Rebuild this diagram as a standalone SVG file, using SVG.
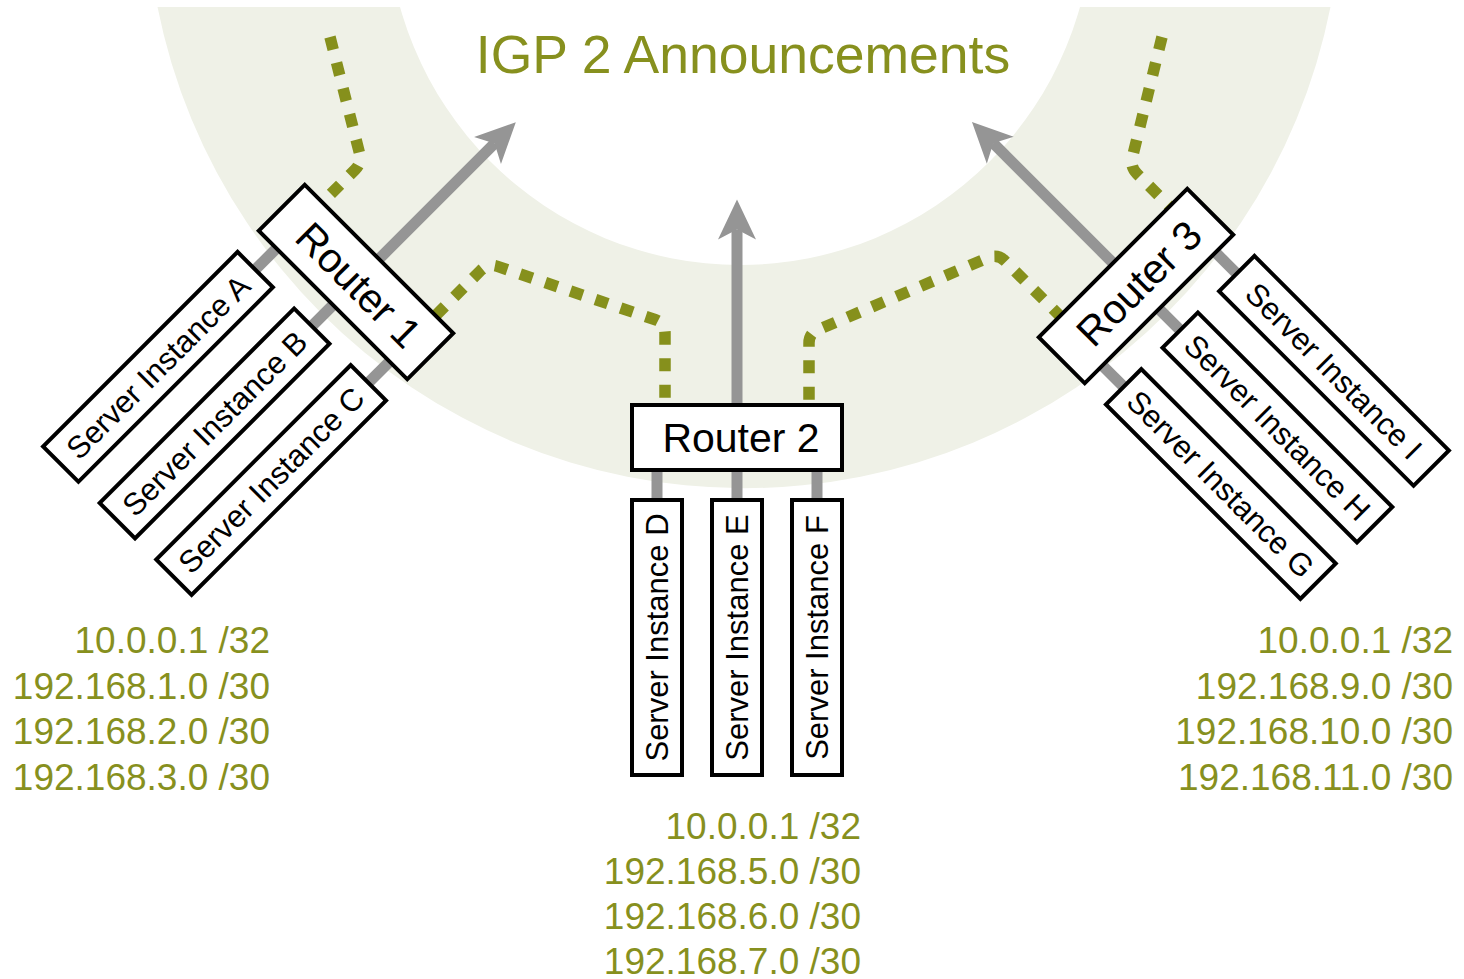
<svg xmlns="http://www.w3.org/2000/svg" width="1464" height="979" viewBox="0 0 1464 979">
  <style>
    .band { fill: #eff1e7; }
    .title { font-family: "Liberation Sans", Arial, sans-serif; font-size: 53.5px; fill: #87901e; }
    .addr { font-family: "Liberation Sans", Arial, sans-serif; font-size: 37px; fill: #87901e; text-anchor: end; }
    .box { fill: #ffffff; stroke: #000000; stroke-width: 4; }
    .rlabel { font-family: "Liberation Sans", Arial, sans-serif; font-size: 41px; fill: #000000; text-anchor: middle; }
    .slabel { font-family: "Liberation Sans", Arial, sans-serif; font-size: 31px; fill: #000000; text-anchor: middle; }
    .link { stroke: #959595; stroke-width: 11; fill: none; }
    .announce { stroke: #86901c; stroke-width: 11.5; fill: none; stroke-dasharray: 13 13.5; }
  </style>
  <defs>
    <clipPath id="bandClip">
      <rect x="0" y="7" width="1464" height="972"/>
    </clipPath>
    <marker id="head" markerUnits="userSpaceOnUse" viewBox="-12 -21 44 42" refX="0" refY="0" markerWidth="44" markerHeight="42" orient="auto">
      <path d="M30,0 L-10,-19 L0,0 L-10,19 Z" fill="#959595"/>
    </marker>
  </defs>

  <!-- IGP 2 flooding domain -->
  <g id="igp-band" clip-path="url(#bandClip)">
    <path class="band" fill-rule="evenodd" d="M146,-110 A598,598 0 1,0 1342,-110 A598,598 0 1,0 146,-110 Z M387,-88 A353,353 0 1,0 1093,-88 A353,353 0 1,0 387,-88 Z"/>
  </g>
  <text id="title" class="title" x="743" y="73" text-anchor="middle">IGP 2 Announcements</text>

  <!-- connectors -->
  <g id="connectors">
    <!-- announcements -->
    <path class="announce" d="M330,37 L359.5,153.1 Q362,162.8 354.9,169.9 L322.4,202.4"/>
    <path class="announce" d="M435.6,315.6 L480.9,270.3 Q488,263.2 497.5,266.4 L655.5,319.8 Q665,323 665,333 L665,410"/>
    <path class="announce" d="M1062,318 L1005,261 Q998,254 988.6,257.5 L818.4,329.6 Q809,333 809,343 L809,410"/>
    <path class="announce" d="M1162,37 L1132.4,157.1 Q1130,166.8 1137.1,173.9 L1169.6,206.4"/>
    <!-- server links -->
    <line class="link" x1="299.4" y1="225.4" x2="253.5" y2="271.4"/>
    <line class="link" x1="356" y1="282" x2="310" y2="328"/>
    <line class="link" x1="412.6" y1="338.6" x2="366.6" y2="384.5"/>
    <line class="link" x1="657" y1="437.5" x2="657" y2="502"/>
    <line class="link" x1="737" y1="437.5" x2="737" y2="502"/>
    <line class="link" x1="817" y1="437.5" x2="817" y2="502"/>
    <line class="link" x1="1079.4" y1="342.6" x2="1125.4" y2="388.5"/>
    <line class="link" x1="1136" y1="286" x2="1182" y2="332"/>
    <line class="link" x1="1192.6" y1="229.4" x2="1238.5" y2="275.4"/>
    <!-- upstream arrows -->
    <line class="link" x1="356" y1="282" x2="494.6" y2="143.4" marker-end="url(#head)"/>
    <line class="link" x1="737" y1="437.5" x2="737" y2="229.5" marker-end="url(#head)"/>
    <line class="link" x1="1136" y1="286" x2="993.2" y2="143.2" marker-end="url(#head)"/>
  </g>

  <!-- Router 1 and its servers -->
  <g id="router-1" transform="translate(356,282) rotate(45)">
    <rect class="box" x="-105" y="-32.5" width="210" height="65"/>
    <text class="rlabel" x="4" y="14.5">Router 1</text>
  </g>
  <g id="server-a" transform="translate(356,282) rotate(45)">
    <rect class="box" x="-105" y="62.5" width="50" height="275"/>
    <text class="slabel" transform="translate(-80,200) rotate(-90)" y="11">Server Instance A</text>
  </g>
  <g id="server-b" transform="translate(356,282) rotate(45)">
    <rect class="box" x="-25" y="62.5" width="50" height="275"/>
    <text class="slabel" transform="translate(0,200) rotate(-90)" y="11">Server Instance B</text>
  </g>
  <g id="server-c" transform="translate(356,282) rotate(45)">
    <rect class="box" x="55" y="62.5" width="50" height="275"/>
    <text class="slabel" transform="translate(80,200) rotate(-90)" y="11">Server Instance C</text>
  </g>

  <!-- Router 2 and its servers -->
  <g id="router-2" transform="translate(737,437.5)">
    <rect class="box" x="-105" y="-32.5" width="210" height="65"/>
    <text class="rlabel" x="4" y="14.5">Router 2</text>
  </g>
  <g id="server-d" transform="translate(737,437.5)">
    <rect class="box" x="-105" y="62.5" width="50" height="275"/>
    <text class="slabel" transform="translate(-80,200) rotate(-90)" y="11">Server Instance D</text>
  </g>
  <g id="server-e" transform="translate(737,437.5)">
    <rect class="box" x="-25" y="62.5" width="50" height="275"/>
    <text class="slabel" transform="translate(0,200) rotate(-90)" y="11">Server Instance E</text>
  </g>
  <g id="server-f" transform="translate(737,437.5)">
    <rect class="box" x="55" y="62.5" width="50" height="275"/>
    <text class="slabel" transform="translate(80,200) rotate(-90)" y="11">Server Instance F</text>
  </g>

  <!-- Router 3 and its servers -->
  <g id="router-3" transform="translate(1136,286) rotate(-45)">
    <rect class="box" x="-105" y="-32.5" width="210" height="65"/>
    <text class="rlabel" x="4" y="14.5">Router 3</text>
  </g>
  <g id="server-g" transform="translate(1136,286) rotate(-45)">
    <rect class="box" x="-105" y="62.5" width="50" height="275"/>
    <text class="slabel" transform="translate(-80,200) rotate(90)" y="11">Server Instance G</text>
  </g>
  <g id="server-h" transform="translate(1136,286) rotate(-45)">
    <rect class="box" x="-25" y="62.5" width="50" height="275"/>
    <text class="slabel" transform="translate(0,200) rotate(90)" y="11">Server Instance H</text>
  </g>
  <g id="server-i" transform="translate(1136,286) rotate(-45)">
    <rect class="box" x="55" y="62.5" width="50" height="275"/>
    <text class="slabel" transform="translate(80,200) rotate(90)" y="11">Server Instance I</text>
  </g>

  <!-- announced prefixes -->
  <g id="prefixes-1" class="addr">
    <text x="270" y="653">10.0.0.1 /32</text>
    <text x="270" y="699">192.168.1.0 /30</text>
    <text x="270" y="744">192.168.2.0 /30</text>
    <text x="270" y="790">192.168.3.0 /30</text>
  </g>
  <g id="prefixes-2" class="addr">
    <text x="861" y="839">10.0.0.1 /32</text>
    <text x="861" y="884">192.168.5.0 /30</text>
    <text x="861" y="929">192.168.6.0 /30</text>
    <text x="861" y="974">192.168.7.0 /30</text>
  </g>
  <g id="prefixes-3" class="addr">
    <text x="1453" y="653">10.0.0.1 /32</text>
    <text x="1453" y="699">192.168.9.0 /30</text>
    <text x="1453" y="744">192.168.10.0 /30</text>
    <text x="1453" y="790">192.168.11.0 /30</text>
  </g>
</svg>
